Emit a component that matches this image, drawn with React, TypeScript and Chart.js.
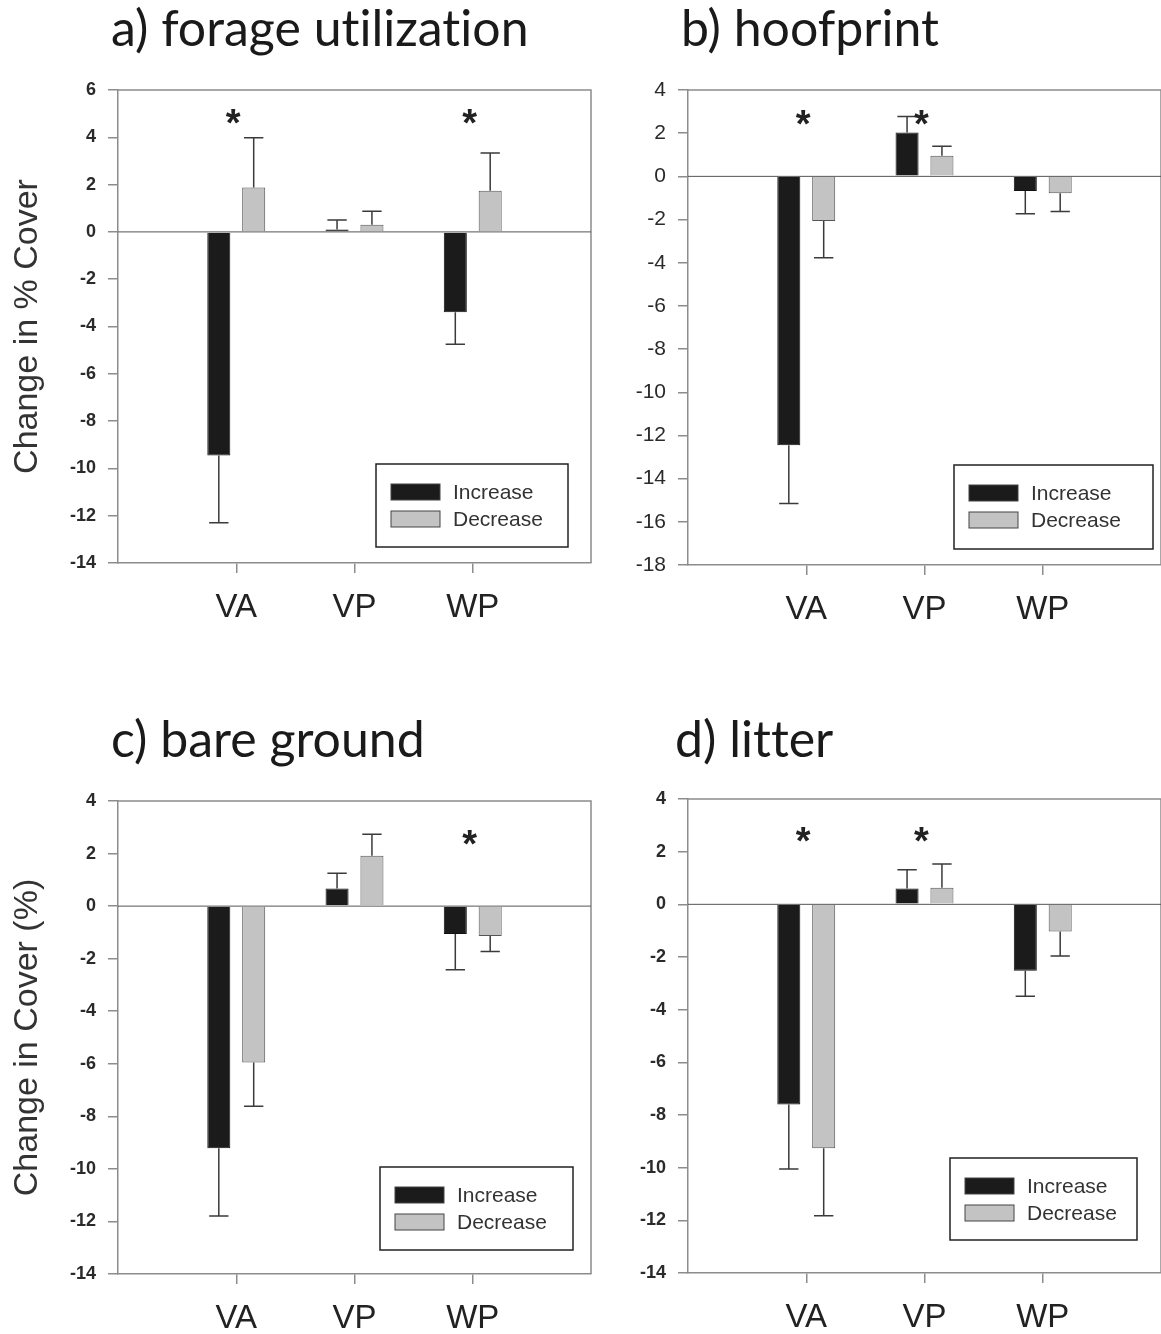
import React, { useEffect, useRef } from 'react';
import { Chart, registerables } from 'chart.js';

Chart.register(...registerables);

// ---------- data ----------
const CATEGORIES = ['VA', 'VP', 'WP'];
const SERIES_LABELS = ['Increase', 'Decrease'];

const A_TITLE = 'a) forage utilization';
const A_Y_TITLE = 'Change in % Cover';
const A_INCREASE = [-9.45, 0.1, -3.4];
const A_INCREASE_ERR = [2.85, 0.4, 1.35];
const A_DECREASE = [1.88, 0.3, 1.74];
const A_DECREASE_ERR = [2.1, 0.57, 1.6];
const A_STARS = [true, false, true];
const A_STAR_Y = 5;
const A_Y_MIN = -14;
const A_Y_MAX = 6;

const B_TITLE = 'b) hoofprint';
const B_INCREASE = [-12.45, 2.03, -0.68];
const B_INCREASE_ERR = [2.7, 0.74, 1.05];
const B_DECREASE = [-2.07, 0.95, -0.78];
const B_DECREASE_ERR = [1.7, 0.45, 0.85];
const B_STARS = [true, true, false];
const B_STAR_Y = 2.9;
const B_Y_MIN = -18;
const B_Y_MAX = 4;

const C_TITLE = 'c) bare ground';
const C_Y_TITLE = 'Change in Cover (%)';
const C_INCREASE = [-9.21, 0.67, -1.06];
const C_INCREASE_ERR = [2.58, 0.58, 1.36];
const C_DECREASE = [-5.95, 1.92, -1.14];
const C_DECREASE_ERR = [1.67, 0.81, 0.59];
const C_STARS = [false, false, true];
const C_STAR_Y = 2.73;
const C_Y_MIN = -14;
const C_Y_MAX = 4;

const D_TITLE = 'd) litter';
const D_INCREASE = [-7.6, 0.6, -2.52];
const D_INCREASE_ERR = [2.45, 0.71, 0.97];
const D_DECREASE = [-9.26, 0.63, -1.03];
const D_DECREASE_ERR = [2.57, 0.9, 0.93];
const D_STARS = [true, true, false];
const D_STAR_Y = 2.77;
const D_Y_MIN = -14;
const D_Y_MAX = 4;

const Y_STEP = 2;

// ---------- styles ----------
const FONT = "'Liberation Sans', Arial, Helvetica, sans-serif";
const TITLE_FONT = "Lato, 'Open Sans', sans-serif";
const INC_COLOR = '#1b1b1b';
const DEC_COLOR = '#c3c3c3';
const AXIS_COLOR = '#8c8c8c';

const pad = (arr: any[], filler: any) => [filler, ...arr, filler];

const framePlugin = {
  id: 'frameZero',
  beforeDatasetsDraw(chart: any) {
    const { ctx, chartArea } = chart;
    const { left, right, top, bottom } = chartArea;
    const y0 = chart.scales.y.getPixelForValue(0);
    ctx.save();
    ctx.strokeStyle = AXIS_COLOR;
    ctx.lineWidth = 1.5;
    ctx.beginPath();
    ctx.moveTo(left, top);
    ctx.lineTo(right, top);
    ctx.lineTo(right, bottom);
    ctx.stroke();
    ctx.strokeStyle = '#555';
    ctx.lineWidth = 1;
    ctx.beginPath();
    ctx.moveTo(left, y0);
    ctx.lineTo(right, y0);
    ctx.stroke();
    ctx.restore();
  },
};

const errorBarPlugin = {
  id: 'errorBars',
  afterDatasetsDraw(chart: any) {
    const { ctx } = chart;
    const yScale = chart.scales.y;
    ctx.save();
    ctx.strokeStyle = '#3a3a3a';
    ctx.lineWidth = 1.5;
    chart.data.datasets.forEach((ds: any, di: number) => {
      const meta = chart.getDatasetMeta(di);
      meta.data.forEach((el: any, i: number) => {
        const v = ds.data[i];
        const e = ds.errors ? ds.errors[i] : null;
        if (v == null || e == null) return;
        const end = yScale.getPixelForValue(v + (v >= 0 ? e : -e));
        const cap = el.width * 0.42;
        ctx.beginPath();
        ctx.moveTo(el.x, el.y);
        ctx.lineTo(el.x, end);
        ctx.moveTo(el.x - cap, end);
        ctx.lineTo(el.x + cap, end);
        ctx.stroke();
      });
    });
    ctx.restore();
  },
};

const starPlugin = {
  id: 'stars',
  afterDatasetsDraw(chart: any) {
    const opts = chart.options.plugins.stars;
    if (!opts) return;
    const { ctx } = chart;
    const xs = chart.scales.x;
    const ys = chart.scales.y;
    const size = 38;
    ctx.save();
    ctx.fillStyle = '#222';
    ctx.font = `bold ${size}px ${FONT}`;
    ctx.textAlign = 'center';
    ctx.textBaseline = 'alphabetic';
    opts.flags.forEach((f: boolean, i: number) => {
      if (!f) return;
      const x = xs.getPixelForValue(i + 1) - 3;
      const y = ys.getPixelForValue(opts.y);
      ctx.fillText('*', x, y + size * 0.6);
    });
    ctx.restore();
  },
};

const boxLegendPlugin = {
  id: 'boxLegend',
  afterDraw(chart: any) {
    const opts = chart.options.plugins.boxLegend;
    if (!opts) return;
    const { ctx, chartArea } = chart;
    const bx = chartArea.left + opts.x;
    const by = chartArea.top + opts.y;
    ctx.save();
    ctx.fillStyle = '#fff';
    ctx.fillRect(bx, by, opts.w, opts.h);
    ctx.strokeStyle = '#222';
    ctx.lineWidth = 1.5;
    ctx.strokeRect(bx, by, opts.w, opts.h);
    ctx.font = `21px ${FONT}`;
    ctx.textBaseline = 'middle';
    ctx.textAlign = 'left';
    chart.data.datasets.forEach((ds: any, i: number) => {
      const sy = by + 20 + i * 27;
      ctx.fillStyle = ds.backgroundColor;
      ctx.fillRect(bx + 15, sy, 49, 16);
      ctx.strokeStyle = '#444';
      ctx.lineWidth = 1;
      ctx.strokeRect(bx + 15, sy, 49, 16);
      ctx.fillStyle = '#333';
      ctx.fillText(ds.label, bx + 77, sy + 9);
    });
    ctx.restore();
  },
};

type PanelCfg = {
  left: number;
  top: number;
  width: number;
  height: number;
  yAxisWidth: number;
  xAxisHeight: number;
  padTop: number;
  padRight: number;
  tickSize: number;
  tickWeight: string;
  yTitle?: string;
  yMin: number;
  yMax: number;
  inc: number[];
  incErr: number[];
  dec: number[];
  decErr: number[];
  stars: boolean[];
  starY: number;
  legend: { x: number; y: number; w: number; h: number };
};

function Panel({ cfg }: { cfg: PanelCfg }) {
  const ref = useRef<HTMLCanvasElement>(null);
  useEffect(() => {
    const labels = pad(CATEGORIES, '');
    const chart = new Chart(ref.current as HTMLCanvasElement, {
      type: 'bar',
      data: {
        labels,
        datasets: [
          {
            label: SERIES_LABELS[0],
            data: pad(cfg.inc, null),
            errors: pad(cfg.incErr, null),
            backgroundColor: INC_COLOR,
            borderColor: '#111',
            borderWidth: 1,
            barPercentage: 0.66,
            categoryPercentage: 0.59,
          } as any,
          {
            label: SERIES_LABELS[1],
            data: pad(cfg.dec, null),
            errors: pad(cfg.decErr, null),
            backgroundColor: DEC_COLOR,
            borderColor: '#555',
            borderWidth: 1,
            barPercentage: 0.66,
            categoryPercentage: 0.59,
          } as any,
        ],
      },
      options: {
        responsive: false,
        animation: false,
        layout: { padding: { top: cfg.padTop, right: cfg.padRight, left: 0, bottom: 0 } },
        plugins: {
          legend: { display: false },
          tooltip: { enabled: false },
          stars: { flags: cfg.stars, y: cfg.starY },
          boxLegend: cfg.legend,
        } as any,
        scales: {
          x: {
            type: 'category',
            offset: false,
            ticks: {
              font: { family: FONT, size: 33 },
              color: '#222',
              padding: 15,
              autoSkip: false,
              maxRotation: 0,
            },
            grid: {
              offset: false,
              drawOnChartArea: false,
              tickLength: 10,
              lineWidth: 1.5,
              color: (c: any) =>
                c.index === 0 || c.index === labels.length - 1 ? 'rgba(0,0,0,0)' : AXIS_COLOR,
            },
            border: { color: AXIS_COLOR, width: 1.5 },
            afterFit: (s: any) => {
              s.height = cfg.xAxisHeight;
            },
          },
          y: {
            min: cfg.yMin,
            max: cfg.yMax,
            ticks: {
              stepSize: Y_STEP,
              font: { family: FONT, size: cfg.tickSize, weight: cfg.tickWeight },
              color: '#2a2a2a',
              padding: 12,
            },
            grid: { drawOnChartArea: false, tickLength: 10, color: AXIS_COLOR, lineWidth: 1.5 },
            border: { color: AXIS_COLOR, width: 1.5 },
            title: cfg.yTitle
              ? {
                  display: true,
                  text: cfg.yTitle,
                  font: { family: FONT, size: 34 },
                  color: '#333',
                  padding: { top: 7, bottom: 0 },
                }
              : { display: false },
            afterFit: (s: any) => {
              s.width = cfg.yAxisWidth;
            },
          },
        },
      } as any,
      plugins: [framePlugin, errorBarPlugin, starPlugin, boxLegendPlugin],
    });
    return () => chart.destroy();
  }, [cfg]);
  return (
    <canvas
      ref={ref}
      width={cfg.width}
      height={cfg.height}
      style={{ position: 'absolute', left: cfg.left, top: cfg.top, width: cfg.width, height: cfg.height }}
    />
  );
}

const PANEL_A: PanelCfg = {
  left: 0, top: 60, width: 606, height: 590, yAxisWidth: 118, xAxisHeight: 87, padTop: 30, padRight: 0,
  tickSize: 18, tickWeight: 'bold', yTitle: A_Y_TITLE, yMin: A_Y_MIN, yMax: A_Y_MAX,
  inc: A_INCREASE, incErr: A_INCREASE_ERR, dec: A_DECREASE, decErr: A_DECREASE_ERR,
  stars: A_STARS, starY: A_STAR_Y, legend: { x: 258, y: 374, w: 192, h: 83 },
};
const PANEL_B: PanelCfg = {
  left: 600, top: 60, width: 576, height: 590, yAxisWidth: 88, xAxisHeight: 85, padTop: 30, padRight: 0,
  tickSize: 21, tickWeight: 'normal', yMin: B_Y_MIN, yMax: B_Y_MAX,
  inc: B_INCREASE, incErr: B_INCREASE_ERR, dec: B_DECREASE, decErr: B_DECREASE_ERR,
  stars: B_STARS, starY: B_STAR_Y, legend: { x: 266, y: 375, w: 199, h: 84 },
};
const PANEL_C: PanelCfg = {
  left: 0, top: 770, width: 606, height: 564, yAxisWidth: 118, xAxisHeight: 60, padTop: 31, padRight: 0,
  tickSize: 18, tickWeight: 'bold', yTitle: C_Y_TITLE, yMin: C_Y_MIN, yMax: C_Y_MAX,
  inc: C_INCREASE, incErr: C_INCREASE_ERR, dec: C_DECREASE, decErr: C_DECREASE_ERR,
  stars: C_STARS, starY: C_STAR_Y, legend: { x: 262, y: 366, w: 193, h: 83 },
};
const PANEL_D: PanelCfg = {
  left: 600, top: 770, width: 576, height: 564, yAxisWidth: 88, xAxisHeight: 61, padTop: 29, padRight: 0,
  tickSize: 18, tickWeight: 'bold', yMin: D_Y_MIN, yMax: D_Y_MAX,
  inc: D_INCREASE, incErr: D_INCREASE_ERR, dec: D_DECREASE, decErr: D_DECREASE_ERR,
  stars: D_STARS, starY: D_STAR_Y, legend: { x: 262, y: 359, w: 187, h: 82 },
};

const titleStyle = (left: number, top: number): React.CSSProperties => ({
  position: 'absolute',
  left,
  top,
  fontFamily: TITLE_FONT,
  fontSize: 50,
  lineHeight: '50px',
  color: '#1a1a1a',
  whiteSpace: 'nowrap',
  fontVariantLigatures: 'none',
});

export default function App() {
  return (
    <div
      style={{
        position: 'absolute',
        left: 0,
        top: 0,
        width: 1161,
        height: 1334,
        background: '#fff',
        overflow: 'hidden',
      }}
    >
      <div style={titleStyle(111, 2)}>{A_TITLE}</div>
      <div style={titleStyle(681, 2)}>{B_TITLE}</div>
      <div style={titleStyle(111, 713)}>{C_TITLE}</div>
      <div style={titleStyle(675, 713)}>{D_TITLE}</div>
      <Panel cfg={PANEL_A} />
      <Panel cfg={PANEL_B} />
      <Panel cfg={PANEL_C} />
      <Panel cfg={PANEL_D} />
    </div>
  );
}
